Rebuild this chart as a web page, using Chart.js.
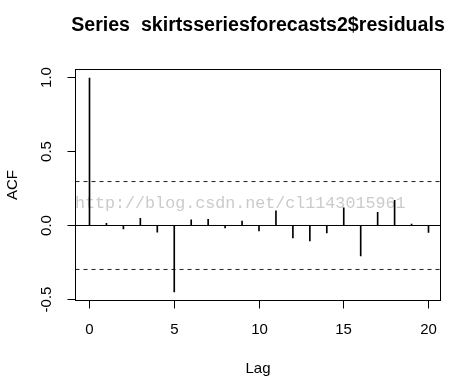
<!DOCTYPE html>
<html>
<head>
<meta charset="utf-8">
<script src="https://cdn.jsdelivr.net/npm/chart.js@4/dist/chart.umd.min.js"></script>
<style>
  html, body { margin: 0; padding: 0; background: #ffffff; }
  #wrap { width: 462px; height: 385px; }
</style>
</head>
<body>
<div id="wrap"><canvas id="c" width="462" height="385"></canvas></div>
<script>
// ---- data ----
const lags = [0, 1, 2, 3, 4, 5, 6, 7, 8, 9, 10, 11, 12, 13, 14, 15, 16, 17, 18, 19, 20];
const acfValues = [1.0, 0.014, -0.024, 0.049, -0.045, -0.45, 0.039, 0.041, -0.017, 0.03,
                   -0.037, 0.10, -0.085, -0.105, -0.05, 0.119, -0.207, 0.089, 0.171, 0.009, -0.047];
const ciBound = 0.298;
const xTickValues = [0, 5, 10, 15, 20];
const yTickValues = [-0.5, 0.0, 0.5, 1.0];
const yTickLabels = ["-0.5", "0.0", "0.5", "1.0"];
const xRange = [-0.826, 20.708];
const yRange = [-0.5085, 1.0576];
const titleText = "Series  skirtsseriesforecasts2$residuals";
const xTitle = "Lag";
const yTitle = "ACF";
const watermark = "http://blog.csdn.net/cl1143015961";

const FONT = '"Liberation Sans", Arial, sans-serif';

const acfPoints = lags.map((l, i) => ({ x: l, y: acfValues[i] }));
const upperLine = xRange.map(x => ({ x: x, y: ciBound }));
const lowerLine = xRange.map(x => ({ x: x, y: -ciBound }));
const zeroLine = xRange.map(x => ({ x: x, y: 0 }));

const rStyle = {
  id: 'rStyle',
  beforeDatasetsDraw(chart) {
    const ctx = chart.ctx;
    const a = chart.chartArea;
    ctx.save();
    ctx.fillStyle = '#cbcbcb';
    ctx.font = '16.7px "Liberation Mono", "DejaVu Sans Mono", monospace';
    ctx.textAlign = 'left';
    ctx.textBaseline = 'alphabetic';
    ctx.fillText(watermark, a.left - 0.5, 208);
    ctx.restore();
  },
  afterDraw(chart) {
    const ctx = chart.ctx;
    const a = chart.chartArea;
    const xs = chart.scales.x, ys = chart.scales.y;
    ctx.save();
    ctx.strokeStyle = '#000';
    ctx.lineWidth = 1;
    ctx.strokeRect(a.left, a.top, a.right - a.left, a.bottom - a.top);

    // x ticks
    ctx.fillStyle = '#000';
    ctx.font = '15px ' + FONT;
    ctx.textAlign = 'center';
    ctx.textBaseline = 'middle';
    xTickValues.forEach(v => {
      const px = Math.floor(xs.getPixelForValue(v)) + 0.5;
      ctx.beginPath();
      ctx.moveTo(px, a.bottom);
      ctx.lineTo(px, a.bottom + 8);
      ctx.stroke();
      ctx.fillText(String(v), px, 330);
    });
    // y ticks
    yTickValues.forEach((v, i) => {
      const py = Math.floor(ys.getPixelForValue(v)) + 0.5;
      ctx.beginPath();
      ctx.moveTo(a.left, py);
      ctx.lineTo(a.left - 8, py);
      ctx.stroke();
      ctx.save();
      ctx.translate(46.5, py);
      ctx.rotate(-Math.PI / 2);
      ctx.fillText(yTickLabels[i], 0, 0);
      ctx.restore();
    });
    // axis titles
    ctx.fillText(xTitle, (a.left + a.right) / 2, 369);
    ctx.save();
    ctx.translate(12.5, (a.top + a.bottom) / 2);
    ctx.rotate(-Math.PI / 2);
    ctx.fillText(yTitle, 0, 0);
    ctx.restore();
    // main title
    ctx.font = 'bold 19.6px ' + FONT;
    ctx.fillText(titleText, (a.left + a.right) / 2, 26);
    ctx.restore();
  }
};

new Chart(document.getElementById('c'), {
  type: 'bar',
  data: {
    datasets: [
      {
        type: 'line', data: zeroLine, borderColor: '#000', borderWidth: 1,
        pointRadius: 0, fill: false, order: 3
      },
      {
        type: 'line', data: upperLine, borderColor: '#0000ff', borderWidth: 1,
        borderDash: [4, 4], pointRadius: 0, fill: false, order: 2
      },
      {
        type: 'line', data: lowerLine, borderColor: '#0000ff', borderWidth: 1,
        borderDash: [4, 4], pointRadius: 0, fill: false, order: 2
      },
      {
        type: 'bar', data: acfPoints, backgroundColor: '#000', borderWidth: 0,
        barThickness: 1, order: 1
      }
    ]
  },
  options: {
    responsive: false,
    animation: false,
    layout: { padding: { left: 75.5, right: 21.5, top: 69.5, bottom: 84.5 } },
    plugins: { legend: { display: false }, tooltip: { enabled: false }, title: { display: false } },
    scales: {
      x: { type: 'linear', min: xRange[0], max: xRange[1], display: false, offset: false },
      y: { type: 'linear', min: yRange[0], max: yRange[1], display: false }
    }
  },
  plugins: [rStyle]
});
</script>
</body>
</html>
